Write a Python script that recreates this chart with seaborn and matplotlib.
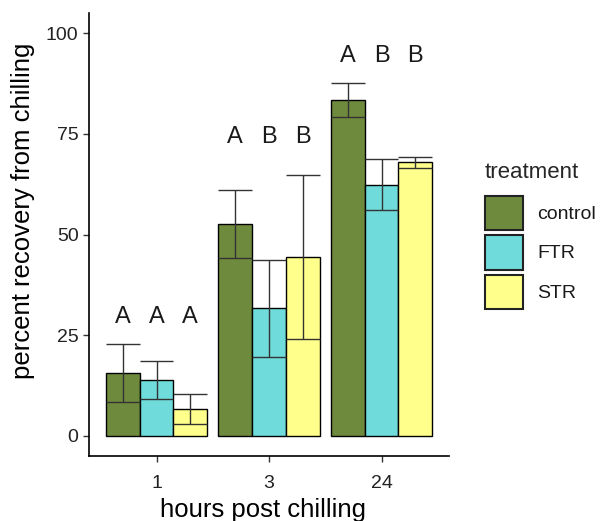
import matplotlib
matplotlib.use("Agg")
import matplotlib.pyplot as plt
import seaborn as sns
import pandas as pd
import numpy as np

hours = ["1", "3", "24"]
treatments = ["control", "FTR", "STR"]
control_mean = [15.5, 52.6, 83.4]
control_se = [7.2, 8.5, 4.3]
ftr_mean = [13.9, 31.7, 62.4]
ftr_se = [4.8, 12.0, 6.3]
str_mean = [6.6, 44.4, 67.9]
str_se = [3.7, 20.3, 1.4]
control_letters = ["A", "A", "A"]
ftr_letters = ["A", "B", "B"]
str_letters = ["A", "B", "B"]
letter_y = [29.4, 74.3, 94.4]
colors = ["#6E8B3D", "#6FDBDB", "#FFFF8C"]
yticks = [0, 25, 50, 75, 100]

means = {"control": control_mean, "FTR": ftr_mean, "STR": str_mean}
ses = {"control": control_se, "FTR": ftr_se, "STR": str_se}
letters = {"control": control_letters, "FTR": ftr_letters, "STR": str_letters}

rows = []
for t in treatments:
    for h, m, s in zip(hours, means[t], ses[t]):
        rows.append({"hours": h, "treatment": t, "value": m, "se": s})
df = pd.DataFrame(rows)

sns.set_theme(style="white")
plt.rcParams["font.family"] = ["Liberation Sans", "DejaVu Sans"]

fig = plt.figure(figsize=(6.0, 5.21), dpi=100)
ax = fig.add_axes([89 / 600, 1 - 456 / 521, 360 / 600, 443 / 521])

sns.barplot(data=df, x="hours", y="value", hue="treatment", order=hours,
            hue_order=treatments, palette=colors, saturation=1, width=0.9,
            errorbar=None, edgecolor="black", linewidth=1.0, legend=False, ax=ax)

for t, cont in zip(treatments, ax.containers):
    for i, bar in enumerate(cont.patches):
        cx = bar.get_x() + bar.get_width() / 2
        x0 = bar.get_x()
        x1 = bar.get_x() + bar.get_width()
        m = means[t][i]
        s = ses[t][i]
        ax.vlines(cx, m - s, m + s, color="#333333", linewidth=1.0, zorder=5)
        ax.hlines([m - s, m + s], x0, x1, color="#333333", linewidth=1.0, zorder=5)
        ax.text(cx, letter_y[i], letters[t][i], ha="center", va="center",
                fontsize=17, color="#1a1a1a")

ax.set_xlim(-0.6, 2.6)
ax.set_ylim(-5, 105)
ax.set_yticks(yticks)
ax.set_yticklabels([str(v) for v in yticks])
for side in ["top", "right"]:
    ax.spines[side].set_visible(False)
for side in ["left", "bottom"]:
    ax.spines[side].set_color("black")
    ax.spines[side].set_linewidth(1.2)
ax.tick_params(axis="both", which="both", length=4.5, width=1.0, color="#333333",
               labelsize=14, labelcolor="#222222", left=True, bottom=True, pad=3)
ax.tick_params(axis="x", pad=9.5)
ax.set_xlabel("hours post chilling", fontsize=18.5, color="black")
ax.set_ylabel("percent recovery from chilling", fontsize=18.5, color="black")
ax.xaxis.set_label_coords((263.5 - 89) / 360, (456 - 498) / 443)
ax.yaxis.set_label_coords((35 - 89) / 360, (456 - 211) / 443)

handles = [cont.patches[0] for cont in ax.containers]
leg = ax.legend(handles=handles, labels=treatments, title="treatment",
                loc="upper left", bbox_to_anchor=(485 / 600, 1 - 162 / 521),
                bbox_transform=fig.transFigure, frameon=False, fontsize=14,
                title_fontsize=16, handlelength=1.95, handleheight=2.33,
                labelspacing=0.26, handletextpad=0.72, borderpad=0,
                borderaxespad=0, alignment="left")
leg._legend_box.sep = 9.4
for p in leg.get_patches():
    p.set_linewidth(1.5)
    p.set_edgecolor("#222222")
for txt in leg.get_texts():
    txt.set_color("#1a1a1a")

fig.savefig("out.png", dpi=100)
